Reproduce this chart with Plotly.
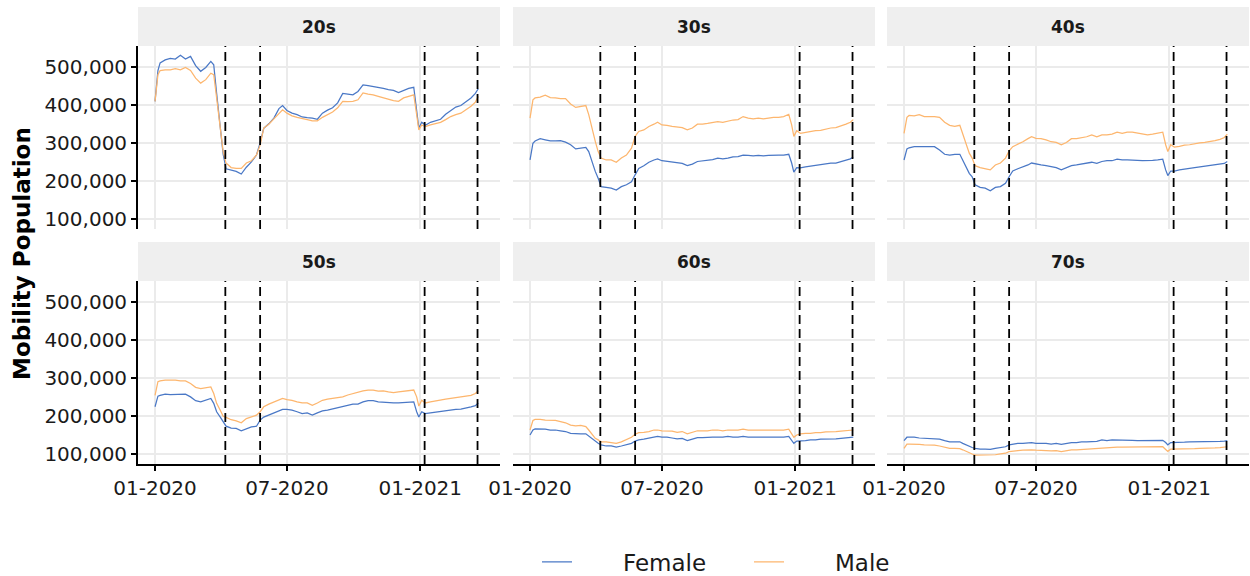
import plotly.graph_objects as go

# ---------------- data (values in thousands) ----------------
DATES = [
    "2020-01-01", "2020-01-05", "2020-01-08", "2020-01-15", "2020-01-22", "2020-01-29", "2020-02-05", "2020-02-12", "2020-02-19", "2020-02-26",
    "2020-03-04", "2020-03-11", "2020-03-18", "2020-03-22", "2020-03-26", "2020-03-31", "2020-04-04", "2020-04-08", "2020-04-15", "2020-04-22",
    "2020-04-29", "2020-05-06", "2020-05-13", "2020-05-20", "2020-05-25", "2020-05-30", "2020-06-06", "2020-06-13", "2020-06-20", "2020-06-25",
    "2020-07-01", "2020-07-08", "2020-07-15", "2020-07-22", "2020-07-29", "2020-08-05", "2020-08-12", "2020-08-19", "2020-08-26", "2020-09-02",
    "2020-09-09", "2020-09-16", "2020-09-23", "2020-09-30", "2020-10-07", "2020-10-14", "2020-10-21", "2020-10-28", "2020-11-04", "2020-11-11",
    "2020-11-18", "2020-11-25", "2020-12-02", "2020-12-09", "2020-12-16", "2020-12-23", "2020-12-27", "2020-12-30", "2021-01-03", "2021-01-08",
    "2021-01-15", "2021-01-22", "2021-01-29", "2021-02-05", "2021-02-12", "2021-02-19", "2021-02-26", "2021-03-05", "2021-03-12", "2021-03-18",
    "2021-03-22",
]

AGE_GROUPS = ["20s", "30s", "40s", "50s", "60s", "70s"]
SEXES = ["Female", "Male"]

F_20S = [409, 490, 510, 518, 522, 520, 530, 520, 527, 503,
         488, 498, 514, 505, 430, 340, 270, 232, 228, 225,
         218, 236, 250, 268, 300, 338, 350, 365, 390, 398,
         385, 378, 374, 368, 366, 365, 362, 378, 386, 392,
         405, 430, 428, 426, 435, 452, 450, 448, 447, 443,
         440, 438, 432, 438, 443, 446, 392, 339, 354, 346,
         354, 358, 362, 375, 384, 394, 398, 408, 418, 430,
         442]
M_20S = [409, 479, 490, 492, 492, 495, 492, 498, 490, 470,
         457, 466, 483, 479, 418, 334, 277, 247, 235, 233,
         233, 247, 253, 268, 294, 339, 349, 363, 378, 387,
         378, 371, 367, 363, 361, 358, 358, 367, 374, 381,
         392, 409, 408, 409, 413, 431, 428, 426, 422, 418,
         413, 411, 409, 418, 422, 426, 374, 334, 347, 343,
         347, 351, 354, 361, 369, 374, 378, 387, 396, 407,
         422]
F_30S = [255, 299, 305, 311, 308, 305, 305, 306, 302, 295,
         284, 286, 288, 277, 251, 225, 207, 185, 183, 181,
         176, 185, 190, 198, 216, 233, 240, 249, 255, 258,
         253, 251, 249, 247, 246, 240, 244, 251, 253, 255,
         256, 260, 258, 260, 263, 264, 268, 267, 266, 267,
         266, 267, 268, 268, 268, 270, 247, 223, 235, 234,
         237, 239, 240, 242, 244, 247, 247, 251, 254, 258,
         263]
M_30S = [365, 413, 418, 420, 425, 419, 418, 416, 416, 402,
         393, 396, 398, 374, 339, 304, 277, 260, 255, 255,
         249, 260, 268, 286, 317, 330, 334, 343, 349, 354,
         347, 346, 343, 342, 340, 334, 339, 349, 349, 351,
         353, 356, 354, 358, 360, 361, 369, 365, 363, 365,
         363, 365, 367, 367, 369, 375, 347, 317, 332, 325,
         328, 330, 332, 333, 337, 339, 340, 344, 349, 354,
         361]
F_40S = [255, 284, 287, 290, 290, 290, 290, 290, 281, 270,
         268, 270, 270, 255, 237, 220, 211, 190, 183, 181,
         174, 183, 185, 194, 211, 226, 232, 236, 242, 247,
         244, 242, 240, 237, 235, 229, 235, 240, 242, 244,
         246, 249, 246, 251, 253, 253, 257, 255, 255, 255,
         254, 253, 253, 254, 255, 257, 229, 214, 226, 226,
         229, 232, 233, 235, 237, 239, 240, 242, 244, 246,
         251]
M_40S = [325, 367, 372, 371, 374, 369, 369, 369, 367, 354,
         346, 343, 346, 325, 299, 273, 260, 240, 235, 233,
         229, 242, 247, 260, 279, 290, 296, 303, 311, 316,
         312, 311, 308, 303, 301, 295, 301, 311, 311, 314,
         316, 321, 316, 321, 321, 323, 328, 325, 328, 328,
         325, 323, 321, 323, 325, 328, 295, 277, 295, 289,
         291, 294, 295, 298, 300, 301, 303, 306, 309, 314,
         323]
F_50S = [224, 252, 254, 257, 256, 256, 257, 257, 250, 240,
         237, 241, 246, 233, 211, 197, 184, 173, 168, 167,
         161, 167, 171, 173, 189, 197, 202, 208, 213, 217,
         217, 215, 211, 206, 208, 202, 208, 213, 215, 218,
         222, 225, 228, 231, 231, 237, 240, 240, 237, 236,
         234, 234, 234, 235, 236, 237, 211, 197, 211, 206,
         208, 210, 212, 213, 215, 217, 218, 222, 224, 227,
         234]
M_50S = [254, 290, 292, 294, 294, 294, 292, 292, 285, 275,
         272, 275, 276, 259, 233, 215, 199, 196, 190, 187,
         182, 193, 197, 202, 211, 224, 231, 237, 243, 246,
         243, 241, 237, 234, 234, 228, 234, 241, 244, 246,
         248, 250, 255, 259, 261, 266, 268, 268, 265, 266,
         263, 261, 263, 265, 266, 268, 250, 226, 241, 234,
         237, 240, 241, 244, 246, 248, 250, 252, 254, 259,
         266]
F_60S = [150, 163, 166, 166, 165, 163, 163, 161, 159, 154,
         153, 153, 153, 147, 141, 132, 128, 124, 121, 121,
         118, 121, 124, 128, 134, 137, 139, 141, 144, 146,
         144, 144, 142, 140, 141, 135, 139, 143, 143, 144,
         144, 144, 144, 146, 144, 144, 146, 144, 144, 144,
         144, 144, 144, 144, 144, 146, 137, 128, 134, 134,
         135, 137, 137, 139, 139, 140, 140, 141, 142, 143,
         144]
M_60S = [163, 188, 191, 191, 189, 188, 188, 185, 182, 176,
         174, 175, 172, 163, 154, 141, 137, 132, 132, 130,
         128, 132, 137, 144, 152, 156, 157, 159, 163, 163,
         161, 161, 160, 157, 159, 153, 156, 161, 161, 161,
         163, 163, 161, 163, 163, 163, 165, 163, 163, 163,
         163, 163, 163, 163, 163, 165, 154, 144, 150, 153,
         154, 154, 156, 156, 158, 158, 159, 160, 161, 162,
         163]
F_70S = [135, 144, 144, 144, 142, 141, 141, 140, 139, 135,
         132, 132, 132, 128, 124, 119, 117, 115, 113, 113,
         112, 115, 117, 119, 124, 126, 128, 128, 130, 130,
         128, 128, 128, 126, 128, 125, 128, 130, 130, 132,
         132, 133, 133, 137, 135, 137, 137, 137, 137, 136,
         135, 135, 135, 135, 136, 136, 130, 124, 130, 130,
         130, 131, 132, 132, 132, 132, 132, 133, 133, 134,
         135]
M_70S = [115, 126, 126, 126, 125, 124, 124, 123, 121, 118,
         115, 115, 114, 111, 107, 104, 100, 97, 97, 97,
         97, 98, 100, 102, 106, 108, 109, 110, 111, 111,
         110, 110, 109, 108, 109, 106, 109, 111, 111, 112,
         112, 114, 114, 116, 116, 118, 118, 118, 118, 118,
         118, 118, 118, 118, 118, 119, 112, 107, 113, 113,
         113, 113, 114, 114, 115, 115, 116, 116, 117, 118,
         119]

# state-of-emergency start / end dates (dashed lines)
EVENT_DATES = ["2020-04-07", "2020-05-25", "2021-01-07", "2021-03-21"]

X_TICK_VALS = ["2020-01-01", "2020-07-01", "2021-01-01"]
X_TICK_TEXT = ["01-2020", "07-2020", "01-2021"]
Y_TICK_VALS = [100000, 200000, 300000, 400000, 500000]
X_RANGE = ["2019-12-08 12:00", "2021-04-21"]
Y_RANGE = [73700, 554400]

SERIES = {
    "20s": (F_20S, M_20S), "30s": (F_30S, M_30S), "40s": (F_40S, M_40S),
    "50s": (F_50S, M_50S), "60s": (F_60S, M_60S), "70s": (F_70S, M_70S),
}

# ---------------- styling ----------------
W, H = 1250, 576
FONT = "DejaVu Sans"
COLORS = {"Female": "#4a78c6", "Male": "#fdb66e"}
COL_PX = [(138, 500), (513, 875), (887, 1249)]
ROW_PX = [(46, 229), (281, 464)]
STRIP_H = 39
GRID = "#ebebeb"
TICK_FONT = dict(size=20, family=FONT, color="#1a1a1a")
LEGEND_PAD = "\u2003\u2003"  # gap between legend key and label, as in the original
LEGEND_IDS = {"Female": "legend", "Male": "legend2"}
LEGEND_X_PX = {"Female": 537, "Male": 749}

fig = go.Figure()
layout = dict(
    width=W, height=H, autosize=False,
    margin=dict(l=0, r=0, t=0, b=0, autoexpand=False),
    paper_bgcolor="white", plot_bgcolor="white",
    font=dict(family=FONT, color="#1a1a1a"),
    shapes=[], annotations=[],
)

for i, grp in enumerate(AGE_GROUPS):
    r, c = divmod(i, 3)
    xl, xr = COL_PX[c]
    yt, yb = ROW_PX[r]
    n = i + 1
    xa = "x" if n == 1 else f"x{n}"
    ya = "y" if n == 1 else f"y{n}"
    bottom = r == 1
    left = c == 0
    layout[f"xaxis{'' if n == 1 else n}"] = dict(
        domain=[xl / W, xr / W], anchor=ya, type="date", range=X_RANGE,
        tickmode="array", tickvals=X_TICK_VALS, ticktext=X_TICK_TEXT,
        showgrid=True, gridcolor=GRID, gridwidth=1.6, zeroline=False,
        showline=bottom, linecolor="black", linewidth=1.8,
        ticks="outside" if bottom else "", ticklen=5, tickwidth=1.5, tickcolor="black",
        showticklabels=bottom, tickfont=TICK_FONT, automargin=False,
    )
    layout[f"yaxis{'' if n == 1 else n}"] = dict(
        domain=[1 - yb / H, 1 - yt / H], anchor=xa, range=Y_RANGE,
        tickmode="array", tickvals=Y_TICK_VALS, tickformat=",d",
        showgrid=True, gridcolor=GRID, gridwidth=1.6, zeroline=False,
        showline=left, linecolor="black", linewidth=1.8,
        ticks="outside" if left else "", ticklen=5, tickwidth=1.5, tickcolor="black",
        showticklabels=left, tickfont=TICK_FONT, automargin=False,
    )
    fvals, mvals = SERIES[grp]
    for sex, vals in zip(SEXES, (fvals, mvals)):
        fig.add_trace(go.Scatter(
            x=DATES, y=[v * 1000 for v in vals], mode="lines",
            name=LEGEND_PAD + sex,
            hovertemplate=f"{grp} {sex}<br>%{{x}}<br>%{{y:,}}<extra></extra>",
            line=dict(color=COLORS[sex], width=1.25), xaxis=xa, yaxis=ya,
            showlegend=(i == 0), legendgroup=sex, legend=LEGEND_IDS[sex],
        ))
    for d in EVENT_DATES:
        layout["shapes"].append(dict(
            type="line", xref=xa, yref=f"{ya} domain", x0=d, x1=d, y0=0, y1=1,
            line=dict(color="black", width=1.8, dash="9px,5px"), layer="above",
        ))
    ph = yb - yt
    layout["shapes"].append(dict(
        type="rect", xref=f"{xa} domain", yref=f"{ya} domain",
        x0=0, x1=1, y0=1, y1=1 + STRIP_H / ph,
        fillcolor="#efefef", line=dict(width=0), layer="below",
    ))
    layout["annotations"].append(dict(
        text=f"<b>{grp}</b>", xref=f"{xa} domain", yref=f"{ya} domain",
        x=0.5, y=1 + STRIP_H / 2 / ph, showarrow=False,
        xanchor="center", yanchor="middle",
        font=dict(size=17, family=FONT, color="#1a1a1a"),
    ))

layout["annotations"].append(dict(
    text="<b>Mobility Population</b>", xref="paper", yref="paper",
    x=22 / W, y=1 - 254 / H, textangle=-90, showarrow=False,
    xanchor="center", yanchor="middle",
    font=dict(size=23, family=FONT, color="black"),
))

for sex in SEXES:
    layout[LEGEND_IDS[sex]] = dict(
        orientation="h", x=LEGEND_X_PX[sex] / W, xanchor="left",
        y=1 - 562 / H, yanchor="middle",
        font=dict(size=23, family=FONT, color="#1a1a1a"),
        itemwidth=30, bgcolor="rgba(0,0,0,0)",
    )

fig.update_layout(**layout)
fig.write_html("out.html")
